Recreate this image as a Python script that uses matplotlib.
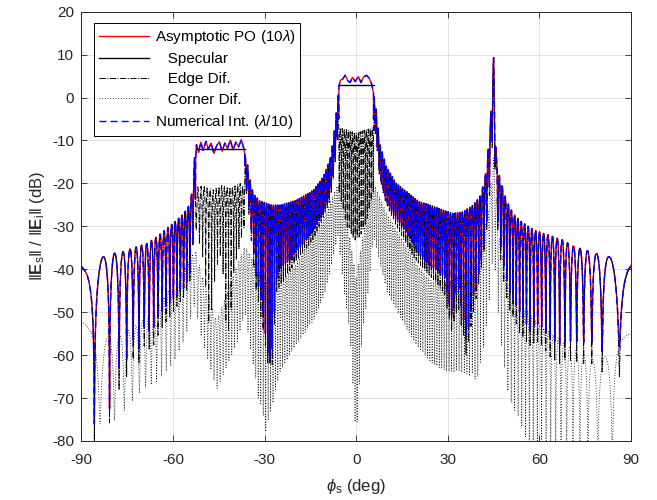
import numpy as np
import matplotlib
matplotlib.use("Agg")
import matplotlib.pyplot as plt

plt.rcParams['font.family'] = ['Liberation Sans', 'DejaVu Sans']
plt.rcParams['axes.unicode_minus'] = False
plt.rcParams['mathtext.fontset'] = 'custom'
plt.rcParams['mathtext.rm'] = 'Liberation Sans'
plt.rcParams['mathtext.it'] = 'Liberation Sans:italic'
plt.rcParams['mathtext.bf'] = 'Liberation Sans:bold'

# ---- values (deg, dB) ----
# lobe tops of the edge / full pattern
edge_ang = [-90, -86, -82.8, -79.5, -76.6, -74.3, -72.1, -70.2, -68.6, -65, -62, -59, -56.5, -55, -54, -53.3, -52.9,
            -52.7, -50, -47, -44, -41, -38, -36.6,
            -36.3, -35.7, -34.8, -33.6, -31.6, -28, -25, -19.5, -14.1, -10.8, -8.6, -7.5, -6.4, -5.9,
            -5.6, -3, 0, 3, 5.6,
            5.8, 6.6, 7.7, 9.9, 13.2, 18.6, 20.8, 24.1, 28.5, 31.7, 35, 38.3, 40.5, 42.1, 43.2, 44.1, 45, 45.9,
            46.8, 47.6, 49.2, 51.4, 53.6, 55.7, 58.5, 61.7, 64.5, 67.7, 70.5, 73.7, 75.9, 78.7, 83, 87, 90]
edge_hi = [-37.5, -37.5, -37.1, -36.3, -36, -35.3, -34.8, -34.4, -34, -32.3, -30.5, -28.7, -27, -25.5, -23, -19, -14,
           -21, -20.5, -21.5, -20.5, -21, -20, -21,
           -13.5, -15, -19, -22.5, -24, -25, -25.1, -23.9, -21.6, -18.5, -14.5, -9.9, -2.9, 0.5,
           -7, -7.5, -8.3, -7.5, -7,
           0.5, -2.9, -10.6, -16.1, -20, -23.1, -24.3, -25, -26.2, -27, -26.6, -25, -23.1, -19.2, -12.2, -4, 9.3, -14,
           -18, -20, -23.9, -27, -28.6, -29.7, -30.9, -31.7, -32.4, -33.2, -34.4, -35.2, -35.7, -36.3, -37.1, -36, -35]

# lobe nulls of the edge diffraction
edge_lo_ang = [-90, -85.8, -80.8, -77.6, -75.1, -73, -71.1, -69.4, -67, -64, -60, -56, -54, -53.3, -52.9,
               -52.7, -50, -48, -46, -44, -42, -40, -38, -36.6,
               -36.3, -35, -33, -30.5, -28.2, -26, -19.5, -14.1, -10.8, -8.6, -7.5, -6.4, -5.9,
               -5.6, -3, 0, 3, 5.6,
               5.8, 6.6, 7.7, 9.9, 13.2, 18.6, 22, 26, 29, 31.2, 33.5, 36.1, 38.5, 40.5, 42.1, 43.2, 44.1, 45, 45.9,
               46.8, 48, 50, 53.6, 56.8, 60, 62.7, 66.6, 69.3, 73.7, 77.5, 80.7, 85.6, 88, 90]
edge_lo = [-48, -80, -77, -68, -65, -61, -62, -58, -59, -54, -50, -46, -42, -32, -28,
           -30, -38, -56, -40, -36, -61, -40, -34, -30,
           -20, -28, -44, -54, -74, -45, -38, -33, -28, -24, -19, -12, -7,
           -22, -30, -34, -30, -22,
           -7, -10, -19, -25, -30, -37, -40, -43, -46, -55, -49, -61, -50, -42, -35, -28, -17, -6, -27,
           -34, -42, -49, -55, -58, -57, -60, -62, -61, -62, -62, -64, -68, -56, -48]

# lobe nulls of the full pattern
total_lo_ang = [-90, -85.8, -80.8, -77.6, -75.1, -73, -71.1, -69.4, -67, -65.5, -64, -60, -56, -54, -53.3, -52.9,
                -36.3, -35, -33, -30.5, -28.2, -26, -25, -19.5, -14.1, -10.8, -8.6, -7.5, -6.4, -5.9,
                5.8, 6.6, 7.7, 9.9, 13.2, 18.6, 22, 26, 29, 31.2, 33.5, 36.1, 38.5, 40.5, 42.1, 43.2, 44.1, 45, 45.9,
                46.8, 48, 50, 53.6, 56.8, 60, 62.7, 66.6, 69.3, 73.7, 77.5, 80.7, 85.6, 88, 90]
total_lo = [-44, -76, -73, -63, -61, -56.5, -58, -53.5, -55, -52, -50, -47, -44, -40, -32, -28,
            -20, -26, -40, -50, -68, -42, -40, -36, -31, -27, -23, -18, -11, -6,
            -6, -9, -18, -24, -28, -34, -38, -40, -42, -51, -44, -57, -46, -40, -33, -26, -15, -5, -25,
            -32, -38, -45, -50, -54, -52.6, -55.8, -57.7, -56.6, -57, -57, -59.3, -60, -52, -45]

# corner diffraction: lobe tops / lobe nulls
corner_ang = [-90, -83, -76, -70, -65, -60, -56, -54.4, -52.8,
              -51, -49, -45.7, -42, -39, -36.4,
              -33, -30, -25, -20, -14, -10, -5.9,
              -4, -2, 0, 2, 4, 5.6,
              10, 15, 20, 25, 30, 35, 40, 43, 45, 47, 50, 55, 60, 70, 80, 85, 90]
corner_hi = [-52, -56, -55, -52, -48.8, -43.3, -39.5, -37.9, -35,
             -40, -45, -52, -45, -39, -34.4,
             -39, -43, -43, -39, -32, -27, -20,
             -26, -33, -42, -33, -26, -19.6,
             -27, -33, -39, -43, -43, -41, -35, -27, -14, -33, -43, -49, -53, -58, -62, -56, -55]
corner_lo = [-62, -78, -73, -68, -66, -62, -56, -52, -48,
             -55, -60, -68, -62, -57, -50,
             -66, -80, -64, -58, -52, -45, -32,
             -45, -55, -80, -55, -45, -32,
             -45, -52, -58, -62, -64, -64, -66, -52, -35, -55, -70, -78, -90, -92, -92, -82, -70]

# specular zones (flat tops of the full pattern)
spec_start = [-52.6, -5.7]
spec_end = [-36.4, 5.7]
spec_level = [-11.9, 2.9]

flat_l_ang = [-52.6, -52.3, -51.6, -50.9, -50.1, -49.2, -48.4, -47.5, -46.6, -45.7, -44.8, -43.9, -43.0,
              -42.1, -41.2, -40.3, -39.4, -38.5, -37.6, -36.8, -36.4]
flat_l_db = [-15, -11.0, -12.8, -10.4, -12.3, -10.2, -12.0, -10.6, -13.0, -11.2, -10.3, -12.5, -10.6,
             -11.8, -9.9, -12.2, -10.4, -11.5, -9.8, -11.8, -13.5]
flat_c_ang = [-5.7, -5.2, -4.4, -3.6, -2.8, -2.0, -1.2, -0.3, 0.7, 1.6, 2.3, 3.4, 4.3, 5.1, 5.7]
flat_c_db = [2.5, 4.0, 4.3, 5.2, 4.0, 3.5, 4.7, 3.7, 4.9, 3.5, 4.7, 5.2, 4.5, 3.1, 1.0]

# lobe spacing in sin(phi); left side lobes follow their own spacing
edge_ds = 0.0114
edge_peak = 45.0
left_ds = 0.0102
left_peak = -82.8
left_switch = -53.0
corner_ds = 0.0122


def phase(phi):
    s = np.sin(np.radians(phi))
    t = (s - np.sin(np.radians(edge_peak))) / edge_ds
    tl = (s - np.sin(np.radians(left_peak))) / left_ds
    return np.where(phi < left_switch, tl, t)


def lobes(phi, t, hi_ang, hi, lo_ang, lo):
    up = 10 ** (np.interp(phi, hi_ang, hi) / 10)
    dn = 10 ** (np.interp(phi, lo_ang, lo) / 10)
    p = up * np.cos(np.pi * t) ** 2 + dn * np.sin(np.pi * t) ** 2
    return 10 * np.log10(p)


phi = np.linspace(-90, 90, 14401)
t_edge = phase(phi)
edge = lobes(phi, t_edge, edge_ang, edge_hi, edge_lo_ang, edge_lo)
total = lobes(phi, t_edge, edge_ang, edge_hi, total_lo_ang, total_lo)
corner = lobes(phi, np.sin(np.radians(phi)) / corner_ds, corner_ang, corner_hi, corner_ang, corner_lo)

zl = (phi >= spec_start[0]) & (phi <= spec_end[0])
zc = (phi >= spec_start[1]) & (phi <= spec_end[1])
total[zl] = np.interp(phi[zl], flat_l_ang, flat_l_db)
total[zc] = np.interp(phi[zc], flat_c_ang, flat_c_db)

spec_x, spec_y = [], []
for a, b, v in zip(spec_start, spec_end, spec_level):
    spec_x += [a, b, np.nan]
    spec_y += [v, v, np.nan]

fig = plt.figure(figsize=(6.57, 5), dpi=100)
ax = fig.add_axes([81.3 / 657, 0.118, 549.7 / 657, 0.8586])

l1, = ax.plot(phi, total, color='#ff0000', lw=1.0)
l2, = ax.plot(spec_x, spec_y, color='k', lw=1.0)
l3, = ax.plot(phi, edge, color='k', lw=0.7, ls='-.')
l4, = ax.plot(phi, corner, color='k', lw=0.6, ls=(0, (1, 2.2)))
l5, = ax.plot(phi, total, color='#0000ff', lw=1.0, ls='--', dashes=(5, 3))

ax.set_xlim(-90, 90)
ax.set_ylim(-80, 20)
ax.set_xticks(np.arange(-90, 91, 30))
ax.set_yticks(np.arange(-80, 21, 10))
ax.grid(True, color='#e3e3e3', lw=0.7)
ax.set_axisbelow(True)
ax.tick_params(direction='in', top=True, right=True, length=4, width=0.6,
               colors='#262626', labelsize=11)
ax.tick_params(axis='x', pad=9)
ax.tick_params(axis='y', pad=5)
for s in ax.spines.values():
    s.set_color('#262626')
    s.set_linewidth(0.7)

ax.set_xlabel(r'$\phi_\mathrm{s}$ (deg)', fontsize=12, color='#262626', labelpad=7)
ax.set_ylabel(r'‖$\mathbf{E}_\mathrm{s}$‖ / ‖$\mathbf{E}_\mathrm{i}$‖ (dB)', fontsize=12,
              color='#262626', labelpad=4)

leg = ax.legend([l1, l2, l3, l4, l5],
                [r'Asymptotic PO (10$\lambda$)', '   Specular', '   Edge Dif.', '   Corner Dif.',
                 r'Numerical Int. ($\lambda$/10)'],
                loc='upper left', bbox_to_anchor=(0.0236, 0.973), borderaxespad=0,
                fontsize=11, handlelength=3.3, handletextpad=0.35, labelspacing=0.41,
                borderpad=0.3, fancybox=False, framealpha=1, edgecolor='k')
leg.get_frame().set_linewidth(0.7)

fig.savefig('out.png', dpi=100)
